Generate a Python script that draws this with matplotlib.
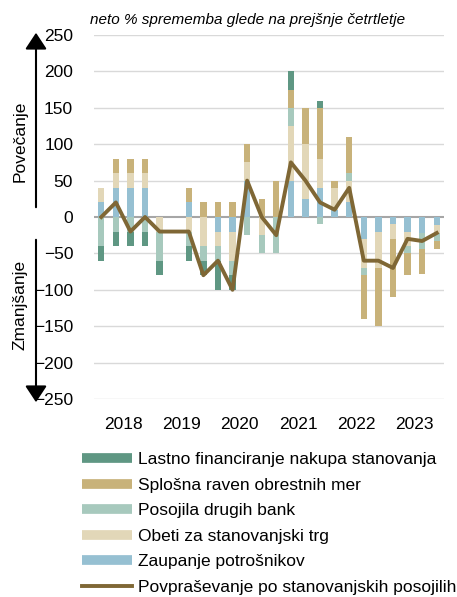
import numpy as np
import matplotlib.pyplot as plt
from matplotlib.lines import Line2D

plt.rcParams['font.family'] = ['Liberation Sans', 'DejaVu Sans']

# cetrtletja 2018 Q1 - 2023 Q4
leta = ['2018', '2019', '2020', '2021', '2022', '2023']

zaupanje = [20, 40, 40, 40, 0, 0, 20, 0, -20, -20, 50, 0,
            0, 50, 25, 40, 10, 20, -30, -20, -10, -20, -22, -11]
obeti = [20, 20, 20, 20, -20, 0, -20, -40, -20, -40, 25, -25,
         0, 75, 75, 40, 30, 30, -40, -50, -20, -20, 0, -11]
posojila = [-40, -20, -20, -20, -40, 0, -20, -20, -20, -20, -25, -25,
            -50, 25, 0, -10, 0, 10, -10, 0, 0, -10, -22, -11]
splosna = [0, 20, 20, 20, 0, 0, 20, 20, 20, 20, 25, 25,
           50, 25, 50, 70, 10, 50, -60, -80, -80, -30, -34, -11]
lastno = [-20, -20, -20, -20, -20, 0, -20, -20, -40, -20, 0, 0,
          0, 25, 0, 10, 0, 0, 0, 0, 0, 0, 0, 0]
povprasevanje = [0, 20, -20, 0, -20, -20, -20, -80, -60, -100, 50, 0,
                 -25, 75, 50, 20, 10, 40, -60, -60, -70, -30, -33, -22]

serije = [
    ('Zaupanje potrošnikov', zaupanje, '#96c0d2'),
    ('Obeti za stanovanjski trg', obeti, '#e2d7b8'),
    ('Posojila drugih bank', posojila, '#a7c9bd'),
    ('Splošna raven obrestnih mer', splosna, '#c8b27a'),
    ('Lastno financiranje nakupa stanovanja', lastno, '#5f9783'),
]
barva_crte = '#7f6735'
fs = 12.5

fig = plt.figure(figsize=(4.57, 5.97), dpi=100)
ax = fig.add_axes([94 / 457, 1 - 399 / 597, 350 / 457, 364 / 597])

x = np.arange(len(povprasevanje))
pos_dno = np.zeros(len(x))
neg_dno = np.zeros(len(x))
for ime, vr, barva in serije:
    vr = np.array(vr, dtype=float)
    dno = np.where(vr >= 0, pos_dno, neg_dno)
    ax.bar(x, vr, bottom=dno, width=0.43, color=barva, zorder=2)
    pos_dno += np.clip(vr, 0, None)
    neg_dno += np.clip(vr, None, 0)

ax.plot(x, povprasevanje, color=barva_crte, lw=2.8, zorder=3)

ax.set_xlim(-0.5, len(x) - 0.5)
ax.set_ylim(-250, 250)
ax.set_yticks(np.arange(-250, 251, 50))
ax.set_xticks(np.arange(1.5, len(x), 4))
ax.set_xticklabels(leta)
ax.tick_params(axis='both', length=0, labelsize=fs)
ax.tick_params(axis='y', pad=15)
ax.tick_params(axis='x', pad=13)
for s in ax.spines.values():
    s.set_visible(False)
for v in np.arange(-250, 251, 50):
    if v == 0:
        ax.axhline(0, color='#a6a6a6', lw=1.5, zorder=1)
    else:
        ax.axhline(v, color='#d9d9d9', lw=1.0, zorder=1)

fig.text(90 / 457, 1 - 20 / 597, 'neto % sprememba glede na prejšnje četrtletje',
         fontsize=11, style='italic', va='center', ha='left')

# puscici in napisa na levi
ax.annotate('', xy=(36, 597 - 30), xytext=(36, 597 - 210), xycoords='figure pixels',
            arrowprops=dict(arrowstyle='-|>,head_width=0.33,head_length=0.5',
                            color='black', lw=1.5, mutation_scale=20))
ax.annotate('', xy=(36, 597 - 405), xytext=(36, 597 - 237), xycoords='figure pixels',
            arrowprops=dict(arrowstyle='-|>,head_width=0.33,head_length=0.5',
                            color='black', lw=1.5, mutation_scale=20))
fig.text(20 / 457, 1 - 141 / 597, 'Povečanje', rotation=90, fontsize=fs,
         ha='center', va='center')
fig.text(20 / 457, 1 - 305 / 597, 'Zmanjšanje', rotation=90, fontsize=fs,
         ha='center', va='center')

rocaji = [Line2D([], [], color=b, lw=7, solid_capstyle='butt') for _, _, b in serije[::-1]]
rocaji.append(Line2D([], [], color=barva_crte, lw=2.8))
imena = [ime for ime, _, _ in serije[::-1]] + ['Povpraševanje po stanovanjskih posojilih']
fig.legend(rocaji, imena, loc='upper left', bbox_to_anchor=(82 / 457, 1 - 452 / 597),
           frameon=False, fontsize=fs, handlelength=2.9, handletextpad=0.3,
           labelspacing=0.6, borderpad=0, borderaxespad=0)

fig.savefig('out.png', dpi=100)
